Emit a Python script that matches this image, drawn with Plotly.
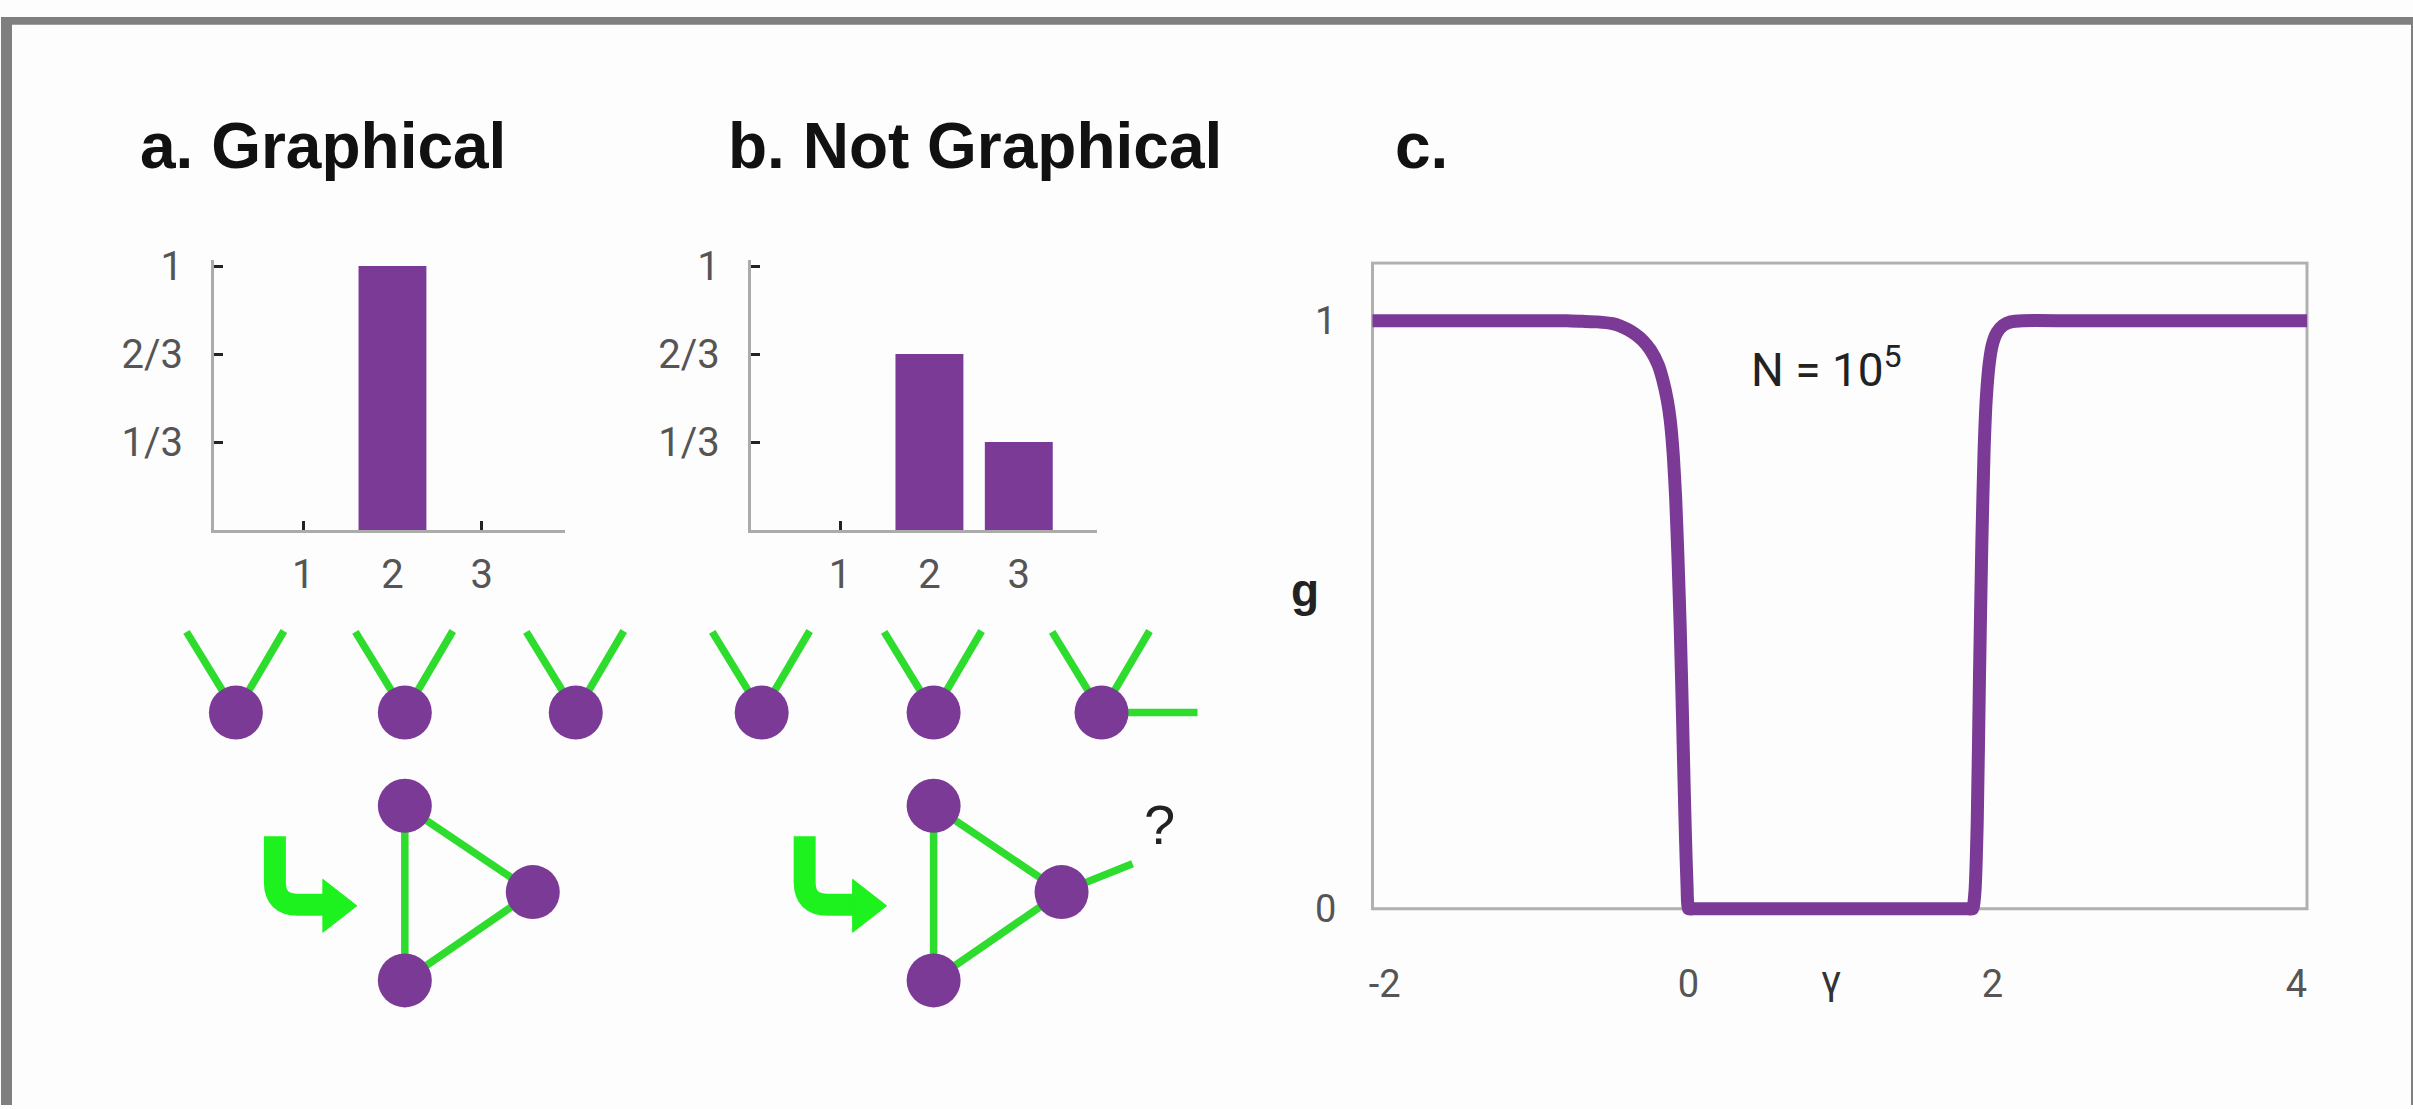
import math
import plotly.graph_objects as go

W, H = 2413, 1109

# ---------------- degree distributions (panels a, b) ----------------
degrees = [1, 2, 3]
frac_graphical = [0, 1, 0]
frac_not_graphical = [0, 2 / 3, 1 / 3]
frac_tick_vals = [1 / 3, 2 / 3, 1]
frac_tick_text = ["1/3", "2/3", "1"]

# ---------------- fraction of graphical sequences (panel c) ----------------
gamma = [-2.08, -1.5, -1.0, -0.8, -0.7, -0.6, -0.5, -0.45, -0.4, -0.35, -0.3, -0.25,
         -0.2, -0.17, -0.14, -0.12, -0.1, -0.085, -0.07, -0.055, -0.04, -0.03,
         -0.02, -0.01, 0.0, 0.03, 0.5, 1.0, 1.5, 1.84, 1.87, 1.885, 1.9, 1.915, 1.93,
         1.945, 1.96, 1.98, 2.0, 2.03, 2.07, 2.12, 2.2, 2.5, 3.0, 3.5, 4.07]
g_frac = [1.0, 1.0, 1.0, 1.0, 0.999, 0.998, 0.995, 0.991, 0.985, 0.977, 0.966, 0.95,
          0.925, 0.9, 0.865, 0.83, 0.77, 0.7, 0.6, 0.48, 0.33, 0.22,
          0.12, 0.04, 0.0, 0.0, 0.0, 0.0, 0.0, 0.0, 0.0, 0.03, 0.15, 0.4, 0.62,
          0.78, 0.87, 0.93, 0.96, 0.98, 0.992, 0.998, 1.0, 1.0, 1.0, 1.0, 1.0]
gamma_ticks = [-2, 0, 2, 4]
g_ticks = [0, 1]

# ---------------- stub / triangle sketches (drawing units = px) ----------------
stub_node_x = [235, 404, 575, 761, 933, 1101]
stub_node_y = [709, 709, 709, 709, 709, 709]
stub_angles = [[121, 60], [121, 60], [121, 60],
               [121, 60], [121, 60], [121, 60, 0]]
stub_len = 96

tri_a_x = [404, 532, 404]
tri_a_y = [804, 892, 982]
tri_b_x = [933, 1061, 933]
tri_b_y = [804, 892, 982]
loose_stub = [(1061, 892), (1132, 863)]

PURPLE = "#7b3a96"
GREEN = "#2edc2e"
ARROW_GREEN = "#1ef21e"
TICK_FONT = dict(family="Roboto, Liberation Sans, sans-serif", size=40, color="#555555")

fig = go.Figure()

# bars
for i, vals in enumerate([frac_graphical, frac_not_graphical]):
    sfx = "" if i == 0 else "2"
    fig.add_trace(go.Bar(x=degrees, y=vals, width=0.76,
                         marker=dict(color=PURPLE, line=dict(width=0)),
                         xaxis="x" + sfx, yaxis="y" + sfx, hoverinfo="skip"))

# g(gamma) curve
fig.add_trace(go.Scatter(x=gamma, y=g_frac, mode="lines",
                         line=dict(color=PURPLE, width=13, shape="spline", smoothing=0.5),
                         xaxis="x3", yaxis="y3", hoverinfo="skip"))

# stubs of the single nodes
sx, sy = [], []
for cx, cy, angs in zip(stub_node_x, stub_node_y, stub_angles):
    for a in angs:
        sx += [cx, cx + stub_len * math.cos(math.radians(a)), None]
        sy += [cy, cy - stub_len * math.sin(math.radians(a)), None]
# triangle edges
for tx, ty in [(tri_a_x, tri_a_y), (tri_b_x, tri_b_y)]:
    for i in range(3):
        j = (i + 1) % 3
        sx += [tx[i], tx[j], None]
        sy += [ty[i], ty[j], None]
sx += [loose_stub[0][0], loose_stub[1][0], None]
sy += [loose_stub[0][1], loose_stub[1][1], None]
fig.add_trace(go.Scatter(x=sx, y=sy, mode="lines", line=dict(color=GREEN, width=7.5),
                         xaxis="x4", yaxis="y4", hoverinfo="skip"))

node_x = stub_node_x + tri_a_x + tri_b_x
node_y = stub_node_y + tri_a_y + tri_b_y
fig.add_trace(go.Scatter(x=node_x, y=node_y, mode="markers",
                         marker=dict(size=54, color=PURPLE, line=dict(width=0)),
                         xaxis="x4", yaxis="y4", hoverinfo="skip"))


def px_x(p):
    return p / W


def px_y(p):
    return 1 - p / H


bar_axis_common = dict(showgrid=False, zeroline=False, showline=True, linecolor="#ababab",
                       linewidth=3, ticks="inside", ticklen=9, tickwidth=3, tickcolor="#222222",
                       tickfont=TICK_FONT, layer="below traces", fixedrange=True)

layout = dict(
    width=W, height=H, margin=dict(l=0, r=0, t=0, b=0),
    paper_bgcolor="#fdfdfd", plot_bgcolor="rgba(0,0,0,0)", showlegend=False,
    xaxis=dict(domain=[px_x(213), px_x(564)], range=[0, 3.93], anchor="y",
               tickvals=degrees, ticklabelstandoff=7, **bar_axis_common),
    yaxis=dict(domain=[px_y(523), px_y(248)], range=[0, 1.022], anchor="x",
               tickvals=frac_tick_vals, ticktext=frac_tick_text, ticklabelstandoff=20,
               **bar_axis_common),
    xaxis2=dict(domain=[px_x(750), px_x(1096)], range=[0, 3.87], anchor="y2",
                tickvals=degrees, ticklabelstandoff=7, **bar_axis_common),
    yaxis2=dict(domain=[px_y(523), px_y(248)], range=[0, 1.022], anchor="x2",
                tickvals=frac_tick_vals, ticktext=frac_tick_text, ticklabelstandoff=20,
                **bar_axis_common),
    xaxis3=dict(domain=[px_x(1369), px_x(2310)], range=[-2.1, 4.09], anchor="y3",
                tickvals=gamma_ticks, ticktext=["-2", "0", "2", "4"], showgrid=False,
                zeroline=False, showline=False, ticks="", tickfont=dict(TICK_FONT, size=38),
                ticklabelstandoff=32, fixedrange=True),
    yaxis3=dict(domain=[px_y(927), px_y(249)], range=[-0.03, 1.101], anchor="x3",
                tickvals=g_ticks, showgrid=False, zeroline=False, showline=False, ticks="",
                tickfont=dict(TICK_FONT, size=38), ticklabelstandoff=32, fixedrange=True),
    xaxis4=dict(domain=[0, 1], range=[0, W], visible=False, anchor="y4", fixedrange=True),
    yaxis4=dict(domain=[0, 1], range=[H, 0], visible=False, anchor="x4", fixedrange=True),
)
fig.update_layout(**layout)

shapes = [
    # frame of panel c
    dict(type="rect", xref="x3", yref="y3", x0=-2.08, x1=4.07, y0=0, y1=1.098,
         line=dict(color="#b0b0b0", width=3), layer="below"),
]
# curved arrows
for off in [0, 530]:
    shapes.append(dict(type="path", xref="x4", yref="y4",
                       path=f"M {274 + off},835 L {274 + off},882 Q {274 + off},905 {297 + off},905 L {326 + off},905",
                       line=dict(color=ARROW_GREEN, width=22), fillcolor="rgba(0,0,0,0)"))
    shapes.append(dict(type="path", xref="x4", yref="y4",
                       path=f"M {322 + off},879 L {356 + off},906 L {322 + off},933 Z",
                       line=dict(color=ARROW_GREEN, width=1), fillcolor=ARROW_GREEN))
# scan border
for x0, x1, y0, y1 in [(0, W, 0, 8), (0, 11, 0, H), (W - 2, W, 0, H)]:
    shapes.append(dict(type="rect", xref="x4", yref="y4", x0=x0, x1=x1, y0=y0, y1=y1,
                       line=dict(width=0), fillcolor="#7f7f7f", layer="above"))
fig.update_layout(shapes=shapes)

TITLE_FONT = dict(family="Liberation Sans, Arial, sans-serif", size=64, color="#111111", weight=700)
ann = []
for text, x in [("a. Graphical", 137), ("b. Not Graphical", 725), ("c.", 1393)]:
    ann.append(dict(text=text, x=x, y=131, xref="x4", yref="y4", xanchor="left",
                    yanchor="middle", showarrow=False, font=TITLE_FONT))
ann += [
    dict(text="g", x=1305, y=584, xref="x4", yref="y4", showarrow=False,
         font=dict(family="Liberation Sans, Arial, sans-serif", size=46, color="#222222", weight=700)),
    dict(text="γ", x=1831, y=982, xref="x4", yref="y4", showarrow=False,
         font=dict(family="Roboto, sans-serif", size=40, color="#333333")),
    dict(text="N = 10<sup>5</sup>", x=1826, y=357, xref="x4", yref="y4", showarrow=False,
         font=dict(family="Roboto, sans-serif", size=46, color="#222222")),
    dict(text="?", x=1159, y=823, xref="x4", yref="y4", showarrow=False,
         font=dict(family="Liberation Sans, Arial, sans-serif", size=56, color="#222222")),
]
fig.update_layout(annotations=ann)

fig.write_html("out.html", post_script="document.body.style.margin='0';")
